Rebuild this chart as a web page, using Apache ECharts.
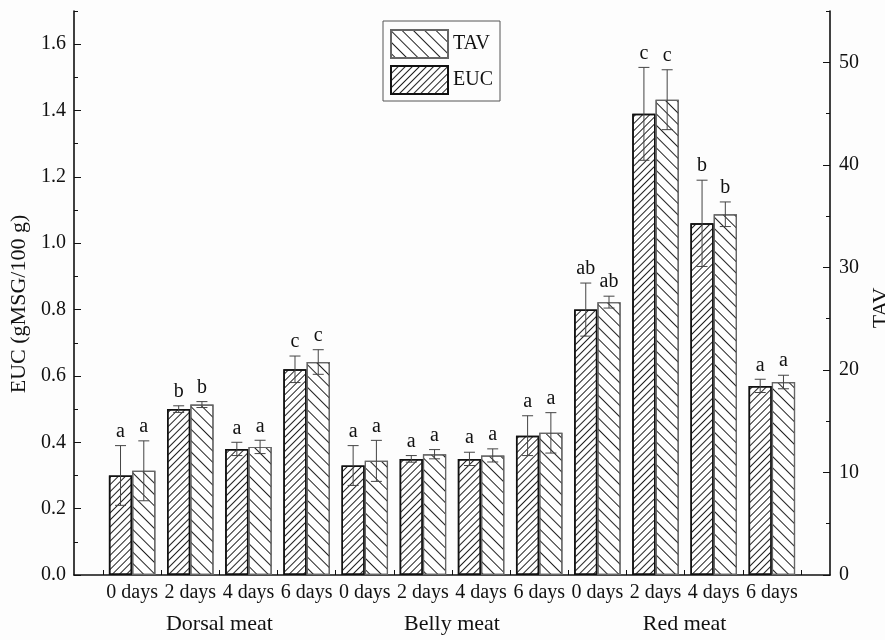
<!DOCTYPE html>
<html>
<head>
<meta charset="utf-8">
<script src="https://cdn.jsdelivr.net/npm/echarts@6/dist/echarts.min.js"></script>
<style>
  html, body { margin: 0; padding: 0; background: #fdfdfd; }
  #chart { width: 885px; height: 640px; }
</style>
</head>
<body>
<div id="chart"></div>
<script>
// Storage time labels, one per bar pair, and the meat cuts they belong to
const dayLabels = ['0 days', '2 days', '4 days', '6 days',
                   '0 days', '2 days', '4 days', '6 days',
                   '0 days', '2 days', '4 days', '6 days'];
const meatGroups = ['Dorsal meat', 'Belly meat', 'Red meat'];

// Equivalent umami concentration (g MSG / 100 g) with standard deviations
const eucValues = [0.30, 0.50, 0.38, 0.62, 0.33, 0.35, 0.35, 0.42, 0.80, 1.39, 1.06, 0.57];
const eucErrors = [0.09, 0.01, 0.02, 0.04, 0.06, 0.01, 0.02, 0.06, 0.08, 0.14, 0.13, 0.02];
const eucLetters = ['a', 'b', 'a', 'c', 'a', 'a', 'a', 'a', 'ab', 'c', 'b', 'a'];

// Taste activity value with standard deviations
const tavValues = [10.16, 16.62, 12.49, 20.77, 11.13, 11.78, 11.66, 13.86, 26.61, 46.35, 35.18, 18.82];
const tavErrors = [2.92, 0.29, 0.65, 1.20, 2.00, 0.45, 0.64, 1.97, 0.58, 2.92, 1.20, 0.66];
const tavLetters = ['a', 'b', 'a', 'c', 'a', 'a', 'a', 'a', 'ab', 'c', 'b', 'a'];

// Axis tick values
const eucTicks = [0, 0.2, 0.4, 0.6, 0.8, 1.0, 1.2, 1.4, 1.6];
const tavTicks = [0, 10, 20, 30, 40, 50];

const FONT = '"Liberation Serif", "Times New Roman", serif';
const INK = '#111';

// categories sit at x = 1..12; boundaries between them carry the ticks
const catPos = dayLabels.map((_, i) => i + 1);
const boundaryPos = [0.5].concat(catPos.map(p => p + 0.5));
const groupPos = meatGroups.map((_, g) => (catPos[g * 4] + catPos[g * 4 + 3]) / 2);

function errorBars(values, errors, letters, side) {
  return function (params, api) {
    const x = api.value(0);
    const v = api.value(1);
    const e = api.value(2);
    const band = api.size([1, 0])[0];
    const cx = api.coord([x, v])[0] + side * band * 0.2;
    const yTop = api.coord([x, v + e])[1];
    const yBot = api.coord([x, v - e])[1];
    const cap = 5.5;
    const ls = { stroke: '#444', lineWidth: 1 };
    return {
      type: 'group',
      children: [
        { type: 'line', shape: { x1: cx, y1: yTop, x2: cx, y2: yBot }, style: ls },
        { type: 'line', shape: { x1: cx - cap, y1: yTop, x2: cx + cap, y2: yTop }, style: ls },
        { type: 'line', shape: { x1: cx - cap, y1: yBot, x2: cx + cap, y2: yBot }, style: ls },
        {
          type: 'text',
          style: {
            text: letters[params.dataIndex], x: cx, y: yTop - 4,
            align: 'center', verticalAlign: 'bottom',
            fontSize: 20, fontFamily: FONT, fill: INK
          }
        }
      ]
    };
  };
}

const labelStyle = { fontSize: 20, fontFamily: FONT, color: INK };

const chart = echarts.init(document.getElementById('chart'), null, { renderer: 'canvas' });
chart.setOption({
  backgroundColor: '#fdfdfd',
  animation: false,
  grid: { left: 74, right: 55, top: 11, bottom: 65, containLabel: false, outerBoundsMode: 'none' },
  legend: {
    data: ['TAV', 'EUC'],
    orient: 'vertical',
    left: 383, top: 21,
    icon: 'rect',
    itemWidth: 57, itemHeight: 28, itemGap: 6,
    padding: [8, 7, 6, 7],
    borderColor: '#555', borderWidth: 1,
    textStyle: { fontSize: 20, fontFamily: FONT, color: INK }
  },
  xAxis: [
    {
      type: 'value', min: 0, max: 13,
      splitLine: { show: false },
      axisLine: { show: true, onZero: false, lineStyle: { color: INK, width: 1.6 } },
      axisTick: { show: true, inside: true, length: 5, customValues: boundaryPos, lineStyle: { color: INK } },
      axisLabel: Object.assign({
        customValues: catPos, margin: 8,
        formatter: v => dayLabels[Math.round(v) - 1]
      }, labelStyle)
    },
    {
      type: 'value', min: 0, max: 13, position: 'bottom',
      splitLine: { show: false },
      axisLine: { show: false, onZero: false },
      axisTick: { show: false },
      axisLabel: {
        customValues: groupPos, margin: 38,
        formatter: v => meatGroups[groupPos.indexOf(v)],
        fontSize: 22, fontFamily: FONT, color: INK
      }
    }
  ],
  yAxis: [
    {
      type: 'value', position: 'left', min: 0, max: 1.7, interval: 0.2,
      name: 'EUC (gMSG/100 g)', nameLocation: 'middle', nameGap: 44,
      nameTextStyle: { fontSize: 22, fontFamily: FONT, color: INK, padding: [0, 22, 0, 0] },
      splitLine: { show: false },
      axisLine: { show: true, onZero: false, lineStyle: { color: INK, width: 1.6 } },
      axisTick: { show: true, inside: true, length: 7, customValues: eucTicks, lineStyle: { color: INK } },
      axisLabel: Object.assign({ customValues: eucTicks, margin: 8, formatter: v => v.toFixed(1) }, labelStyle)
    },
    {
      type: 'value', position: 'right', min: 0, max: 55, interval: 10,
      name: 'TAV', nameLocation: 'middle', nameGap: 38, nameRotate: 90,
      nameTextStyle: { fontSize: 22, fontFamily: FONT, color: INK, padding: [0, 30, 0, 0] },
      splitLine: { show: false },
      axisLine: { show: true, onZero: false, lineStyle: { color: INK, width: 1.6 } },
      axisTick: { show: true, inside: true, length: 7, customValues: tavTicks, lineStyle: { color: INK } },
      axisLabel: Object.assign({ customValues: tavTicks, margin: 9, formatter: v => String(v) }, labelStyle)
    },
    {
      // minor ticks on the EUC side
      type: 'value', position: 'left', min: 0, max: 1.7, interval: 0.1,
      splitLine: { show: false },
      axisLine: { show: false, onZero: false },
      axisTick: { show: true, inside: true, length: 4, lineStyle: { color: INK } },
      axisLabel: { show: false }
    },
    {
      // minor ticks on the TAV side
      type: 'value', position: 'right', min: 0, max: 55, interval: 5,
      splitLine: { show: false },
      axisLine: { show: false, onZero: false },
      axisTick: { show: true, inside: true, length: 4, lineStyle: { color: INK } },
      axisLabel: { show: false }
    }
  ],
  series: [
    {
      name: 'EUC', type: 'bar', xAxisIndex: 0, yAxisIndex: 0,
      barGap: '0%', barCategoryGap: '20%',
      data: eucValues.map((v, i) => [catPos[i], v]),
      itemStyle: {
        color: '#fff', borderColor: '#111', borderWidth: 1.5,
        decal: { symbol: 'rect', symbolSize: 1, dashArrayX: [1, 0], dashArrayY: [1, 4], rotation: -Math.PI / 4, color: '#222' }
      }
    },
    {
      name: 'TAV', type: 'bar', xAxisIndex: 0, yAxisIndex: 1,
      barGap: '0%', barCategoryGap: '20%',
      data: tavValues.map((v, i) => [catPos[i], v]),
      itemStyle: {
        color: '#fff', borderColor: '#666', borderWidth: 1.2,
        decal: { symbol: 'rect', symbolSize: 1, dashArrayX: [1, 0], dashArrayY: [1, 7], rotation: Math.PI / 4, color: '#222' }
      }
    },
    {
      name: 'EUC error', type: 'custom', xAxisIndex: 0, yAxisIndex: 0, z: 5,
      data: eucValues.map((v, i) => [catPos[i], v, eucErrors[i]]),
      renderItem: errorBars(eucValues, eucErrors, eucLetters, -1)
    },
    {
      name: 'TAV error', type: 'custom', xAxisIndex: 0, yAxisIndex: 1, z: 5,
      data: tavValues.map((v, i) => [catPos[i], v, tavErrors[i]]),
      renderItem: errorBars(tavValues, tavErrors, tavLetters, 1)
    }
  ]
});
</script>
</body>
</html>
